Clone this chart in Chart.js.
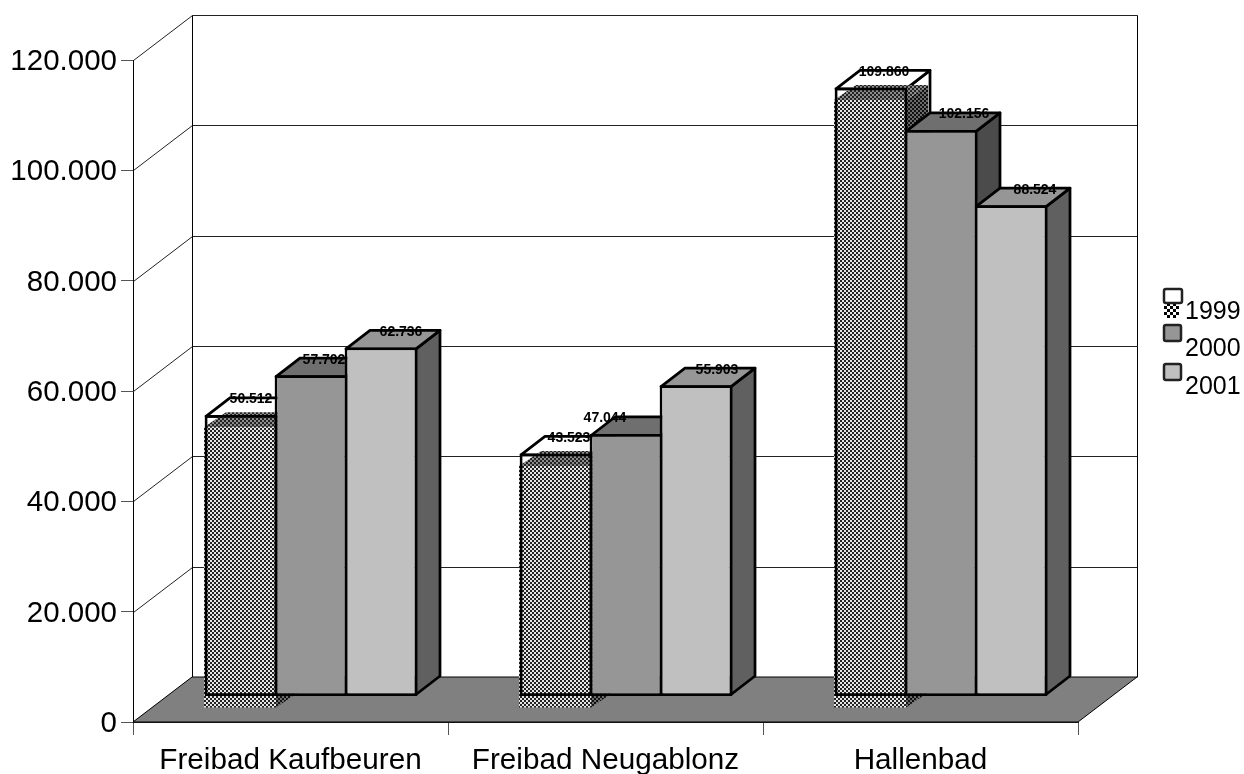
<!DOCTYPE html>
<html><head><meta charset="utf-8">
<style>html,body{margin:0;padding:0;background:#fff}#w{width:1244px;height:774px}</style>
<script src="https://cdn.jsdelivr.net/npm/chart.js@4"></script>
</head><body><div id="w"><canvas id="c" width="1244" height="774"></canvas></div>
<script>
const categories = ["Freibad Kaufbeuren", "Freibad Neugablonz", "Hallenbad"];
const seriesNames = ["1999", "2000", "2001"];
const values1999 = [50512, 43523, 109860];
const values2000 = [57702, 47044, 102156];
const values2001 = [62736, 55903, 88524];
const tickStep = 20000;

const FONT = '"Liberation Sans", Arial, sans-serif';
const WALL = {dx: 59, dy: -45};
const BW = 2.75;
const BAR = {dx: 24, dy: -18.5, sx: 20.5, sy: -27};
const GHOST = {x: -2, top: 11, bottom: 13, dx: 22, dy: -15};
const labelShift = [[10, 13, 13], [13, -21, 23], [20, 21, 24]];
const faces = [
  {front: '#ffffff', top: '#ffffff', side: '#ffffff'},
  {front: '#969696', top: '#6f6f6f', side: '#4b4b4b'},
  {front: '#c0c0c0', top: '#969696', side: '#606060'}
];
function tile(dark, light, n){
  const t = document.createElement('canvas'); t.width = 2*n; t.height = 2*n;
  const g = t.getContext('2d');
  g.fillStyle = light; g.fillRect(0,0,2*n,2*n);
  g.fillStyle = dark; g.fillRect(0,0,n,n); g.fillRect(n,n,n,n);
  return document.createElement('canvas').getContext('2d').createPattern(t,'repeat');
}
const patFront = tile('#222222','#e6e6e6',2);
const patTop = tile('#222222','#8c8c8c',2);
const patSide = tile('#111111','#6a6a6a',2);
const patLegend = tile('#000000','#ffffff',3);

function poly(c, pts, fill, stroke, lw){
  c.beginPath(); pts.forEach((p,i)=> i?c.lineTo(p[0],p[1]):c.moveTo(p[0],p[1])); c.closePath();
  if(fill){c.fillStyle=fill;c.fill();}
  if(stroke){c.strokeStyle=stroke;c.lineWidth=lw;c.lineJoin='round';c.stroke();}
}
const fmt = v => String(v).replace(/\B(?=(\d{3})+(?!\d))/g,'.');

const scene = {
  id:'scene',
  afterLayout(chart){
    const y = chart.scales.y;
    if(!y._shifted){
      const orig = y._computeLabelItems;
      y._computeLabelItems = function(ca){
        return orig.call(this,ca).map(it=>{ it.options.translation[1] += 2; return it; });
      };
      y._shifted = true;
    }
  },
  afterDatasetsUpdate(chart){
    chart.data.datasets.forEach((d,i)=>{
      chart.getDatasetMeta(i).data.forEach(el=>{
        if(el._moved) return;
        el.x += BAR.sx; el.y += BAR.sy - BW/2; el.base += BAR.sy + BW/2; el._moved = true;
      });
    });
  },
  beforeDatasetsDraw(chart){
    const c = chart.ctx, y = chart.scales.y, a = chart.chartArea;
    const L=a.left, R=a.right, B=y.getPixelForValue(0), T=y.getPixelForValue(y.max);
    c.save();
    c.lineWidth=1; c.strokeStyle='#222';
    for(let v=0; v<=y.max; v+=tickStep){
      const p=Math.round(y.getPixelForValue(v))+0.5;
      c.beginPath(); c.moveTo(L+.5,p); c.lineTo(L+WALL.dx+.5,p+WALL.dy); c.lineTo(R+WALL.dx+.5,p+WALL.dy); c.stroke();
    }
    c.strokeStyle='#000';
    c.beginPath(); c.moveTo(L+WALL.dx+.5,Math.round(T)+WALL.dy+.5); c.lineTo(L+WALL.dx+.5,B+WALL.dy);
    c.moveTo(R+WALL.dx+.5,Math.round(T)+WALL.dy+.5); c.lineTo(R+WALL.dx+.5,B+WALL.dy); c.stroke();
    poly(c,[[L,B],[L+WALL.dx,B+WALL.dy],[R+WALL.dx,B+WALL.dy],[R,B]],'#808080','#000',1);
    categories.forEach((_,k)=>{
      chart.data.datasets.forEach((d,i)=>{
        const el=chart.getDatasetMeta(i).data[k], f=faces[i];
        const h=el.width/2-BW/2;
        const l=el.x-h, r=el.x+h, t=el.y+BW/2, b=el.base-BW/2, dx=BAR.dx, dy=BAR.dy;
        if(i===0){ c.fillStyle='#fff'; c.fillRect(l,t,r-l,b-t); }
        poly(c,[[r,t],[r+dx,t+dy],[r+dx,b+dy],[r,b]],f.side,'#000',BW);
        poly(c,[[l,t],[l+dx,t+dy],[r+dx,t+dy],[r,t]],f.top,'#000',BW);
        if(i===0){
          const gl=l+GHOST.x, gt=t+GHOST.top, gb=b+GHOST.bottom, gx=GHOST.dx, gy=GHOST.dy;
          poly(c,[[r,gt],[r+gx,gt+gy],[r+gx,gb+gy],[r,gb]],patSide);
          poly(c,[[gl,gt],[gl+gx,gt+gy],[r+gx,gt+gy],[r,gt]],patTop);
          poly(c,[[gl,gt],[r,gt],[r,gb],[gl,gb]],patFront);
        }
      });
    });
    c.restore();
  },
  afterDatasetsDraw(chart){
    const c=chart.ctx;
    c.save();
    c.font='bold 14px '+FONT; c.fillStyle='#000'; c.textAlign='center'; c.textBaseline='middle';
    chart.data.datasets.forEach((d,i)=>{
      chart.getDatasetMeta(i).data.forEach((el,k)=>{
        c.fillText(fmt(d.data[k]), el.x+labelShift[i][k], el.y-15.5);
      });
    });
    const boxes=[[1164,289,18,14],[1164,325,17,16],[1164,364,17,16]];
    const base=[319,356,394];
    chart.data.datasets.forEach((d,i)=>{
      const [x,y0,w,h]=boxes[i];
      if(i===0){ c.fillStyle=patLegend; c.fillRect(x,y0+14,15,15); }
      c.beginPath(); c.roundRect(x,y0,w,h,2); c.fillStyle=faces[i].front; c.fill();
      c.lineWidth=2.5; c.strokeStyle='#222'; c.stroke();
      c.font='25px '+FONT; c.fillStyle='#000'; c.textAlign='left'; c.textBaseline='alphabetic';
      c.fillText(d.label,1185,base[i]);
    });
    c.restore();
  }
};

const barOpts = {borderColor:'#000',borderWidth:BW,borderSkipped:false};
new Chart(document.getElementById('c'),{
  type:'bar',
  data:{labels:categories,datasets:[
    {label:seriesNames[0],data:values1999,backgroundColor:'rgba(0,0,0,0)',...barOpts},
    {label:seriesNames[1],data:values2000,backgroundColor:faces[1].front,...barOpts},
    {label:seriesNames[2],data:values2001,backgroundColor:faces[2].front,...barOpts}
  ]},
  options:{
    responsive:false,animation:false,
    layout:{padding:{top:60,right:166,left:0,bottom:0}},
    plugins:{legend:{display:false},title:{display:false},tooltip:{enabled:false}},
    datasets:{bar:{categoryPercentage:2/3,barPercentage:(70+BW)/70}},
    scales:{
      x:{
        afterFit(s){s.height=52;s.paddingLeft=0;s.paddingRight=0;},
        grid:{drawOnChartArea:false,drawTicks:true,tickLength:13,color:'#555',offset:true},
        border:{display:true,color:'#222',width:1},
        ticks:{color:'#000',font:{family:FONT,size:29.7},padding:8,maxRotation:0,autoSkip:false}
      },
      y:{
        min:0,max:120000,
        afterFit(s){s.width=133;s.paddingTop=0;s.paddingBottom=0;},
        grid:{drawOnChartArea:false,drawTicks:true,tickLength:12,color:'#555'},
        border:{display:true,color:'#000',width:1},
        ticks:{stepSize:tickStep,color:'#000',font:{family:FONT,size:29.5},padding:4,
          callback:v=>fmt(v)}
      }
    }
  },
  plugins:[scene]
});
</script></body></html>
